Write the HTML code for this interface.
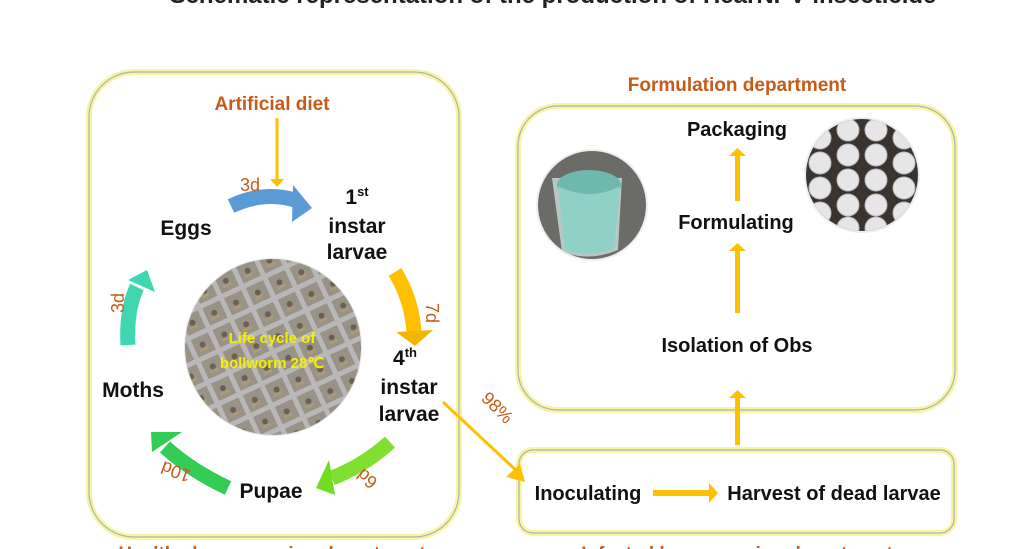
<!DOCTYPE html>
<html><head><meta charset="utf-8"><style>
html,body{margin:0;padding:0;background:#fff;}
svg{display:block;font-family:"Liberation Sans",sans-serif;}
</style></head><body>
<svg width="1010" height="549" viewBox="0 0 1010 549" xmlns="http://www.w3.org/2000/svg">
<defs>
<clipPath id="c1"><circle cx="273" cy="347" r="88"/></clipPath>
<pattern id="grid" width="24" height="24" patternUnits="userSpaceOnUse" patternTransform="rotate(-25)">
<rect width="24" height="24" fill="#9e978b"/>
<rect x="0" y="0" width="24" height="5" fill="#c9c9cc"/>
<rect x="0" y="0" width="5" height="24" fill="#c9c9cc"/>
<circle cx="14" cy="14" r="3" fill="#5f5649"/>
<rect x="9" y="17" width="9" height="3" fill="#b8a27a"/>
</pattern>
</defs>
<text x="553" y="3" font-size="24" font-weight="bold" text-anchor="middle" fill="#222">Schematic representation of the production of HearNPV insecticide</text>

<g fill="none">
<rect x="89" y="72" width="370" height="465" rx="45" stroke="#fbf3a0" stroke-width="6"/>
<rect x="89" y="72" width="370" height="465" rx="45" stroke="#9fb6c0" stroke-width="1.2"/>
<rect x="518" y="106" width="437" height="304" rx="40" stroke="#fbf3a0" stroke-width="6"/>
<rect x="518" y="106" width="437" height="304" rx="40" stroke="#9fb6c0" stroke-width="1.2"/>
<rect x="519" y="450" width="435" height="83" rx="14" stroke="#fbf3a0" stroke-width="6"/>
<rect x="519" y="450" width="435" height="83" rx="14" stroke="#9fb6c0" stroke-width="1.2"/>
</g>

<circle cx="273" cy="347" r="89" fill="#e8e8e8"/>
<rect x="180" y="255" width="190" height="190" fill="url(#grid)" clip-path="url(#c1)"/>
<circle cx="273" cy="347" r="88" fill="#8a8478" opacity="0.25"/>
<text x="272" y="343" font-size="15" font-weight="bold" fill="#f3f000" text-anchor="middle">Life cycle of</text>
<text x="272" y="368" font-size="15" font-weight="bold" fill="#f3f000" text-anchor="middle">bollworm 28℃</text>

<text x="272" y="110" font-size="19" font-weight="bold" fill="#c65b1a" text-anchor="middle">Artificial diet</text>
<line x1="277" y1="118" x2="277" y2="180" stroke="#ffc000" stroke-width="3"/>
<polygon points="270,179 284,179 277,187" fill="#ffc000"/>

<path d="M231,206 Q265,190 298,201" stroke="#5b9bd5" stroke-width="15" fill="none"/>
<polygon points="293,185 312,208 292,222" fill="#5b9bd5"/>
<path d="M395,272 Q412,300 414,332" stroke="#ffc000" stroke-width="15" fill="none"/>
<polygon points="396,332 433,330 415,346" fill="#f2b600"/>
<path d="M390,442 Q365,465 332,478" stroke="#80e030" stroke-width="15" fill="none"/>
<polygon points="329,460 316,488 335,495" fill="#70dd20"/>
<path d="M228,488 Q190,470 165,447" stroke="#33cc55" stroke-width="15" fill="none"/>
<polygon points="151,432 182,432 152,452" fill="#33cc55"/>
<path d="M128,345 Q126,310 137,287" stroke="#40d6b0" stroke-width="15" fill="none"/>
<polygon points="128,280 147,270 155,292" fill="#40d6b0"/>

<g font-size="18" fill="#c65b1a">
<text x="250" y="191" text-anchor="middle">3d</text>
<text transform="translate(426,313) rotate(90)" text-anchor="middle">7d</text>
<text transform="translate(371,474) rotate(-140)" text-anchor="middle">6d</text>
<text transform="translate(178,466) rotate(200)" text-anchor="middle">10d</text>
<text transform="translate(124,303) rotate(-90)" text-anchor="middle">3d</text>
<text transform="translate(493,412) rotate(45)" text-anchor="middle">98%</text>
</g>

<g font-size="21" font-weight="bold" fill="#111" text-anchor="middle">
<text x="186" y="235">Eggs</text>
<text x="357" y="204">1<tspan font-size="13" dy="-8">st</tspan></text>
<text x="357" y="233">instar</text>
<text x="357" y="259">larvae</text>
<text x="405" y="365">4<tspan font-size="13" dy="-8">th</tspan></text>
<text x="409" y="394">instar</text>
<text x="409" y="421">larvae</text>
<text x="133" y="397">Moths</text>
<text x="271" y="498">Pupae</text>
</g>

<line x1="443" y1="402" x2="520" y2="474" stroke="#ffc000" stroke-width="3"/>
<polygon points="525,482 506,477 520,464" fill="#ffc000"/>

<text x="737" y="91" font-size="19" font-weight="bold" fill="#c65b1a" text-anchor="middle">Formulation department</text>
<g font-size="20" font-weight="bold" fill="#111" text-anchor="middle">
<text x="737" y="136">Packaging</text>
<text x="736" y="229">Formulating</text>
<text x="737" y="352">Isolation of Obs</text>
<text x="588" y="500">Inoculating</text>
<text x="834" y="500">Harvest of dead larvae</text>
</g>
<g fill="#ffc000">
<rect x="735" y="155" width="5" height="46"/><polygon points="729,156 746,156 737.5,148"/>
<rect x="735" y="250" width="5" height="63"/><polygon points="729,251 746,251 737.5,243"/>
<rect x="735" y="397" width="5" height="48"/><polygon points="729,398 746,398 737.5,390"/>
<rect x="653" y="490" width="58" height="6"/><polygon points="709,483 718,493 709,503"/>
</g>

<circle cx="592" cy="205" r="56" fill="#eee"/>
<circle cx="592" cy="205" r="54" fill="#6b6b68"/>
<path d="M552,178 L562,252 Q590,262 618,250 L622,178 Z" fill="#d8eeee" opacity="0.7"/>
<ellipse cx="589" cy="185" rx="32" ry="15" fill="#6fb8ad"/>
<path d="M558,186 L565,250 Q590,258 614,248 L620,186 Q590,202 558,186 Z" fill="#8fd0c7"/>

<circle cx="862" cy="175" r="58" fill="#eee"/>
<clipPath id="c2"><circle cx="862" cy="175" r="56"/></clipPath>
<g clip-path="url(#c2)">
<rect x="800" y="115" width="125" height="120" fill="#3a3430"/>
<g fill="#e6e6e8" stroke="#bbb" stroke-width="1">
<circle cx="820" cy="138" r="11"/><circle cx="848" cy="130" r="11"/><circle cx="876" cy="130" r="11"/><circle cx="904" cy="138" r="11"/>
<circle cx="820" cy="163" r="11"/><circle cx="848" cy="155" r="11"/><circle cx="876" cy="155" r="11"/><circle cx="904" cy="163" r="11"/>
<circle cx="820" cy="188" r="11"/><circle cx="848" cy="180" r="11"/><circle cx="876" cy="180" r="11"/><circle cx="904" cy="188" r="11"/>
<circle cx="820" cy="213" r="11"/><circle cx="848" cy="205" r="11"/><circle cx="876" cy="205" r="11"/><circle cx="904" cy="213" r="11"/>
<circle cx="848" cy="228" r="11"/><circle cx="876" cy="228" r="11"/>
</g>
</g>

<text x="272" y="560" font-size="19" font-weight="bold" fill="#c65b1a" text-anchor="middle">Healthy larvae rearing department</text>
<text x="737" y="560" font-size="19" font-weight="bold" fill="#c65b1a" text-anchor="middle">Infected larvae rearing department</text>
</svg>
</body></html>
